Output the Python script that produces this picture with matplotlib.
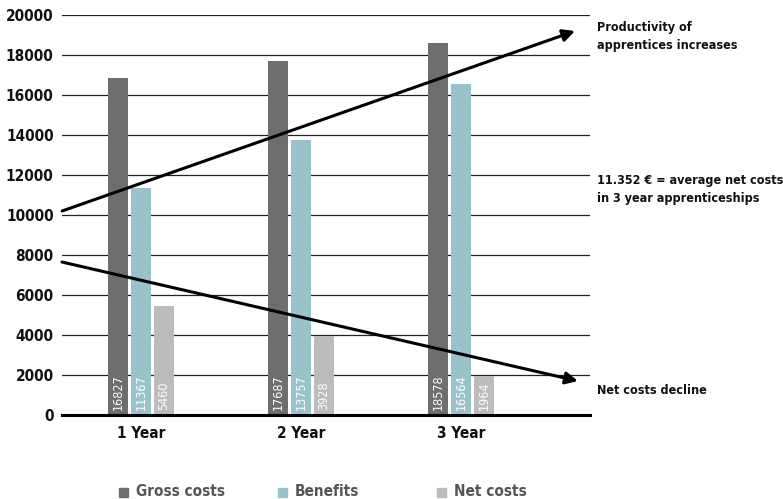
import matplotlib.pyplot as plt
import numpy as np
from matplotlib.patches import Rectangle
from matplotlib import font_manager

years = ['1 Year', '2 Year', '3 Year']
gross_costs = [16827, 17687, 18578]
benefits = [11367, 13757, 16564]
net_costs = [5460, 3928, 1964]
series_names = ['Gross costs', 'Benefits', 'Net costs']
colors = ['#6e6e6e', '#99c3ca', '#bcbcbc']

plt.rcParams['font.family'] = ['DejaVu Sans']
plt.rcParams['font.stretch'] = 'condensed'
plt.rcParams['font.weight'] = 'bold'

fig = plt.figure(figsize=(7.83, 4.99), dpi=100)
ax = fig.add_axes([0.0792, 0.1683, 0.6743, 0.8016])

x = np.arange(len(years))
width = 0.125
step = 0.144
bars = []
for i, (vals, name, c) in enumerate(zip([gross_costs, benefits, net_costs], series_names, colors)):
    b = ax.bar(x + (i - 1) * step, vals, width, color=c, label=name, zorder=3)
    bars.append(b)
    for xi, v in zip(x + (i - 1) * step, vals):
        ax.text(xi, 250, str(v), rotation=90, ha='center', va='bottom',
                color='white', fontsize=9, fontweight='normal', zorder=4)

ax.set_xlim(-0.494, 2.806)
ax.set_ylim(0, 20000)
ax.set_yticks(range(0, 20001, 2000))
ax.yaxis.grid(True, color='#222222', linewidth=0.9, zorder=0)
ax.tick_params(axis='y', length=0, pad=6, labelsize=11, labelcolor='#111111')
ax.tick_params(axis='x', length=0, pad=8, labelsize=11, labelcolor='#111111')
ax.set_xticks(x)
ax.set_xticklabels(years)
for s in ['top', 'right', 'left']:
    ax.spines[s].set_visible(False)
ax.spines['bottom'].set_linewidth(2.2)
ax.spines['bottom'].set_color('black')
ax.spines['bottom'].set_zorder(5)

# trend arrows
ax.annotate('', xy=(2.7125, 19200), xytext=(-0.494, 10200),
            arrowprops=dict(arrowstyle='-|>', color='black', lw=2.2,
                            mutation_scale=18, shrinkA=0, shrinkB=0),
            annotation_clip=False, zorder=6)
ax.annotate('', xy=(2.73, 1700), xytext=(-0.494, 7650),
            arrowprops=dict(arrowstyle='-|>', color='black', lw=2.2,
                            mutation_scale=18, shrinkA=0, shrinkB=0),
            annotation_clip=False, zorder=6)

fig.text(597 / 783, 1 - 37 / 499, 'Productivity of\napprentices increases',
         fontsize=9, color='#111111', va='center', ha='left', linespacing=1.5)
fig.text(597 / 783, 1 - 190 / 499, '11.352 € = average net costs\nin 3 year apprenticeships',
         fontsize=9, color='#111111', va='center', ha='left', linespacing=1.5)
fig.text(597 / 783, 1 - 390 / 499, 'Net costs decline',
         fontsize=9, color='#111111', va='center', ha='left')

# legend row
for i, (name, c) in enumerate(zip(series_names, colors)):
    x0 = 119 + 159 * i
    fig.add_artist(Rectangle((x0 / 783, 1 - 497 / 499), 9 / 783, 9 / 499,
                             transform=fig.transFigure, color=c))
    fig.text((x0 + 17) / 783, 1 - 492 / 499, name, fontsize=11,
             color='#555555', va='center', ha='left')

fig.savefig('out.png', dpi=100)
